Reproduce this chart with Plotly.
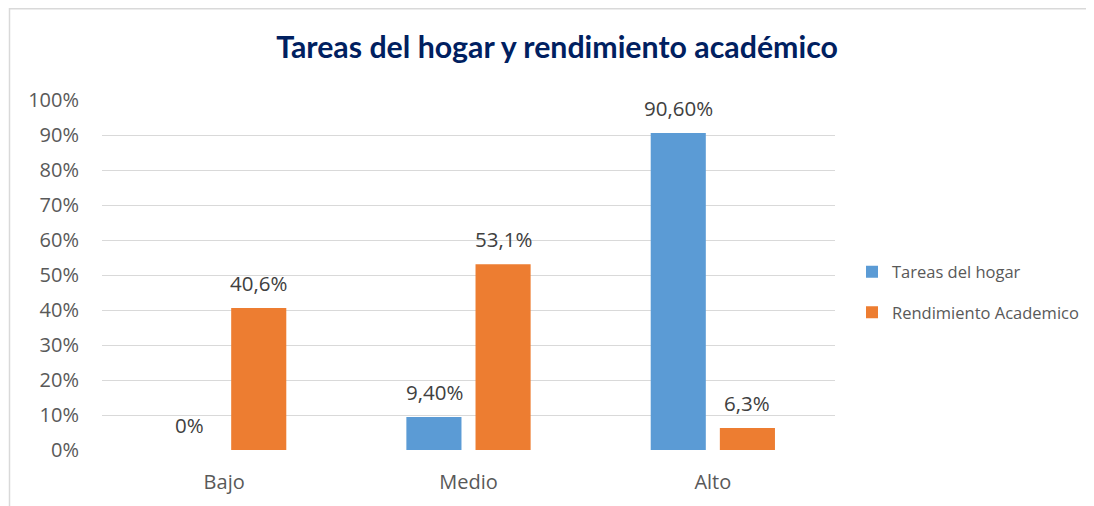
import plotly.graph_objects as go

categories = ["Bajo", "Medio", "Alto"]
tareas = [0.0, 0.094, 0.906]
rendimiento = [0.406, 0.531, 0.063]
tareas_labels = ["0%", "9,40%", "90,60%"]
rendimiento_labels = ["40,6%", "53,1%", "6,3%"]
series_names = ["Tareas del hogar", "Rendimiento Academico"]
title_text = "Tareas del hogar y rendimiento académico"

FONT = "Open Sans, Liberation Sans, sans-serif"
TFONT = "Lato, Liberation Sans, sans-serif"
colors = ["#5B9BD5", "#ED7D31"]

# plot area (figure pixel coords; page adds 8px body margin)
L, R, T, B = 94, 267, 92, 64
PW = 1094 - L - R
PH = 506 - T - B

fig = go.Figure()
for vals, name, col, grp in [(tareas, series_names[0], colors[0], "a"),
                             (rendimiento, series_names[1], colors[1], "b")]:
    fig.add_trace(go.Bar(x=categories, y=vals, name=name, marker_color=col,
                         marker_line_width=0, legendgroup=grp))

# data labels above bars
for vals, labels, shift in [(tareas, tareas_labels, -34.5),
                            (rendimiento, rendimiento_labels, 34.5)]:
    for c, v, t in zip(categories, vals, labels):
        fig.add_annotation(x=c, y=v, text=t, showarrow=False, xshift=shift,
                           yshift=25, yanchor="middle",
                           font=dict(size=20.5, color="#404040", family=FONT))

fig.update_layout(
    width=1094, height=506,
    margin=dict(l=L, r=R, t=T, b=B),
    paper_bgcolor="white", plot_bgcolor="white",
    barmode="group", bargap=0.434, bargroupgap=0.203,
    font=dict(family=FONT, color="#595959"),
    title=dict(text="<b>" + title_text + "</b>", x=549 / 1094, xanchor="center",
               y=1 - 39 / 506, yanchor="middle",
               font=dict(size=30.3, color="#002060", family=TFONT)),
    legend=dict(x=(844 - L) / PW, xanchor="left", y=0.4514, yanchor="middle",
                font=dict(size=16.5, color="#595959", family=FONT),
                tracegroupgap=16, itemwidth=30),
    showlegend=True,
)
fig.update_xaxes(showgrid=False, showline=False, ticks="outside", ticklen=14,
                 tickcolor="rgba(0,0,0,0)", tickfont=dict(size=20, color="#595959"))
fig.update_yaxes(range=[0, 1], dtick=0.1, tickformat=".0%", showgrid=True,
                 gridcolor="#D9D9D9", gridwidth=1.3, zeroline=False, showline=False,
                 ticks="outside", ticklen=18, tickcolor="rgba(0,0,0,0)",
                 tickfont=dict(size=20, color="#595959"))

# chart border (outer frame)
fig.add_shape(type="rect", xref="paper", yref="paper",
              x0=(1.5 - L) / PW, x1=2.0, y0=-1.0, y1=(PH + T - 0.75) / PH,
              line=dict(color="#D9D9D9", width=1.5), fillcolor="rgba(0,0,0,0)",
              layer="below")

fig.write_html("out.html")
